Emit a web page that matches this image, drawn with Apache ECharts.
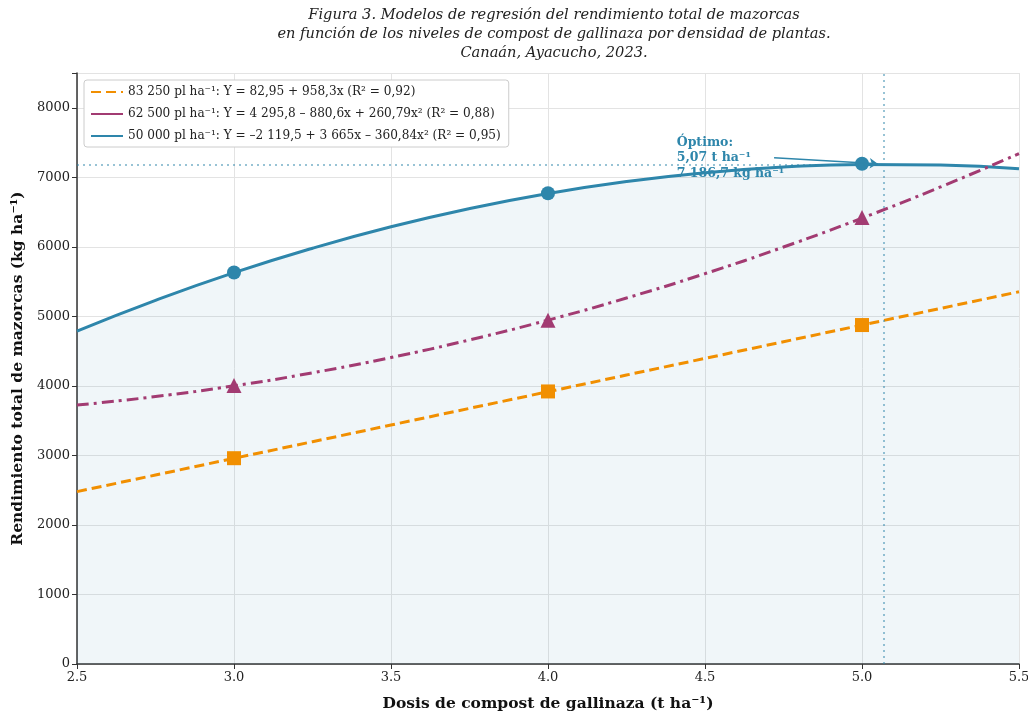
<!DOCTYPE html>
<html>
<head>
<meta charset="utf-8">
<script src="https://cdn.jsdelivr.net/npm/echarts@6/dist/echarts.min.js"></script>
<style>
    html, body { margin: 0; padding: 0; background: #fff; }
    #chart { width: 1028px; height: 712px; }
</style>
</head>
<body>
<div id="chart"></div>
<script>
    // dosis de compost (t/ha) para las curvas
    var dosisCurva = [2.5, 2.75, 3.0, 3.25, 3.5, 3.75, 4.0, 4.25, 4.5, 4.75, 5.0, 5.25, 5.5];
    // curvas (kg/ha)
    var curva83250 = [2479, 2718, 2958, 3197, 3437, 3677, 3916, 4156, 4395, 4635, 4875, 5114, 5354];
    var curva62500 = [3724, 3846, 4001, 4188, 4408, 4661, 4946, 5264, 5614, 5997, 6413, 6861, 7341];
    var curva50000 = [4788, 5230, 5628, 5980, 6288, 6550, 6767, 6939, 7066, 7148, 7185, 7176, 7123];
    // valores observados (marcadores)
    var dosisObs = [3.0, 4.0, 5.0];
    var obs83250 = [2960, 3920, 4875];
    var obs62500 = [4005, 4945, 6420];
    var obs50000 = [5630, 6770, 7195];
    // optimo
    var optimoX = 5.07;
    var optimoY = 7186.7;

    var nombres = [
        '83 250 pl ha\u207B\u00B9: Y = 82,95 + 958,3x (R\u00B2 = 0,92)',
        '62 500 pl ha\u207B\u00B9: Y = 4 295,8 \u2013 880,6x + 260,79x\u00B2 (R\u00B2 = 0,88)',
        '50 000 pl ha\u207B\u00B9: Y = \u20132 119,5 + 3 665x \u2013 360,84x\u00B2 (R\u00B2 = 0,95)'
    ];
    var colores = ['#F18F01', '#A23B72', '#2E86AB'];
    var serif = 'DejaVu Serif';

    function pares(xs, ys) {
        return xs.map(function (x, i) { return [x, ys[i]]; });
    }

    var chart = echarts.init(document.getElementById('chart'));
    var option = {
        animation: false,
        backgroundColor: '#fff',
        title: {
            text: 'Figura 3. Modelos de regresión del rendimiento total de mazorcas\nen función de los niveles de compost de gallinaza por densidad de plantas.\nCanaán, Ayacucho, 2023.',
            left: 549,
            textAlign: 'center',
            top: 1,
            textStyle: {
                fontFamily: serif, fontStyle: 'italic', fontWeight: 'normal',
                fontSize: 14.6, lineHeight: 19, color: '#222'
            }
        },
        grid: { left: 77, right: 9, top: 73, bottom: 48, outerBoundsMode: 'none', containLabel: false },
        legend: {
            left: 84, top: 80, orient: 'vertical',
            itemWidth: 32, itemHeight: 12, itemGap: 10,
            itemStyle: { color: 'transparent', borderColor: 'transparent', borderWidth: 0 },
            backgroundColor: '#fff', borderColor: '#cccccc', borderWidth: 1, borderRadius: 3,
            padding: [6, 8, 5, 6],
            textStyle: { fontFamily: serif, fontSize: 12.1, color: '#222' },
            data: [
                { name: nombres[0] },
                { name: nombres[1], lineStyle: { type: 'solid' } },
                { name: nombres[2] }
            ]
        },
        xAxis: {
            type: 'value', min: 2.5, max: 5.5, interval: 0.5,
            name: 'Dosis de compost de gallinaza (t ha\u207B\u00B9)',
            nameLocation: 'middle', nameGap: 32,
            nameTextStyle: { fontFamily: serif, fontWeight: 'bold', fontSize: 15.5, color: '#111' },
            axisLine: { lineStyle: { color: '#333', width: 1.5 } },
            axisTick: { show: true, length: 5, lineStyle: { color: '#333' } },
            axisLabel: {
                fontFamily: serif, fontSize: 13, color: '#222', margin: 7,
                formatter: function (v) { return v.toFixed(1); }
            },
            splitLine: { show: true, lineStyle: { color: '#e3e3e3', width: 1 } }
        },
        yAxis: {
            type: 'value', min: 0, max: 8500, interval: 1000,
            name: 'Rendimiento total de mazorcas (kg ha\u207B\u00B9)',
            nameLocation: 'middle', nameGap: 50,
            nameTextStyle: { fontFamily: serif, fontWeight: 'bold', fontSize: 15.5, color: '#111' },
            axisLine: { show: true, lineStyle: { color: '#333', width: 1.5 } },
            axisTick: { show: true, length: 5, lineStyle: { color: '#333' } },
            axisLabel: {
                fontFamily: serif, fontSize: 13, color: '#222', margin: 7,
                formatter: function (v) { return v > 8000 ? '' : String(v); }
            },
            splitLine: { show: true, lineStyle: { color: '#e3e3e3', width: 1 } }
        },
        series: [
            {
                name: nombres[2], type: 'line', smooth: true, symbol: 'none',
                data: pares(dosisCurva, curva50000),
                lineStyle: { color: colores[2], width: 3 },
                itemStyle: { color: colores[2] },
                areaStyle: { color: 'rgba(46,134,171,0.1)' },
                z: 3,
                markLine: {
                    silent: true, symbol: 'none',
                    lineStyle: { color: 'rgba(46,134,171,0.65)', type: [2, 4], width: 1.5 },
                    label: { show: false },
                    data: [
                        [{ coord: [2.5, optimoY] }, { coord: [optimoX, optimoY] }],
                        [{ coord: [optimoX, 0] }, { coord: [optimoX, 8500] }],
                        [
                            { coord: [4.72, 7280], symbol: 'none', lineStyle: { type: 'solid', color: colores[2], width: 1.5 } },
                            { coord: [5.05, 7195], symbol: 'arrow', symbolSize: 8, lineStyle: { type: 'solid', color: colores[2], width: 1.5 } }
                        ]
                    ]
                },
                markPoint: {
                    silent: true, symbol: 'circle', symbolSize: 0,
                    data: [{
                        coord: [4.41, 7280],
                        label: {
                            show: true, position: 'inside', align: 'left', verticalAlign: 'middle',
                            formatter: 'Óptimo:\n5,07 t ha\u207B\u00B9\n7 186,7 kg ha\u207B\u00B9',
                            fontFamily: serif, fontWeight: 'bold', fontSize: 12.5, lineHeight: 15.5,
                            color: colores[2]
                        }
                    }]
                }
            },
            {
                name: nombres[1], type: 'line', smooth: true, symbol: 'none',
                data: pares(dosisCurva, curva62500),
                lineStyle: { color: colores[1], width: 3, type: [12, 5, 3, 5] },
                itemStyle: { color: colores[1] },
                z: 3
            },
            {
                name: nombres[0], type: 'line', symbol: 'none',
                data: pares(dosisCurva, curva83250),
                lineStyle: { color: colores[0], width: 3, type: [10, 5] },
                itemStyle: { color: colores[0] },
                z: 3
            },
            {
                type: 'scatter', symbol: 'rect', symbolSize: 14,
                data: pares(dosisObs, obs83250),
                itemStyle: { color: colores[0], opacity: 1 }, z: 4
            },
            {
                type: 'scatter', symbol: 'triangle', symbolSize: 15,
                data: pares(dosisObs, obs62500),
                itemStyle: { color: colores[1], opacity: 1 }, z: 4
            },
            {
                type: 'scatter', symbol: 'circle', symbolSize: 14,
                data: pares(dosisObs, obs50000),
                itemStyle: { color: colores[2], opacity: 1 }, z: 4
            }
        ]
    };
    chart.setOption(option);
</script>
</body>
</html>
